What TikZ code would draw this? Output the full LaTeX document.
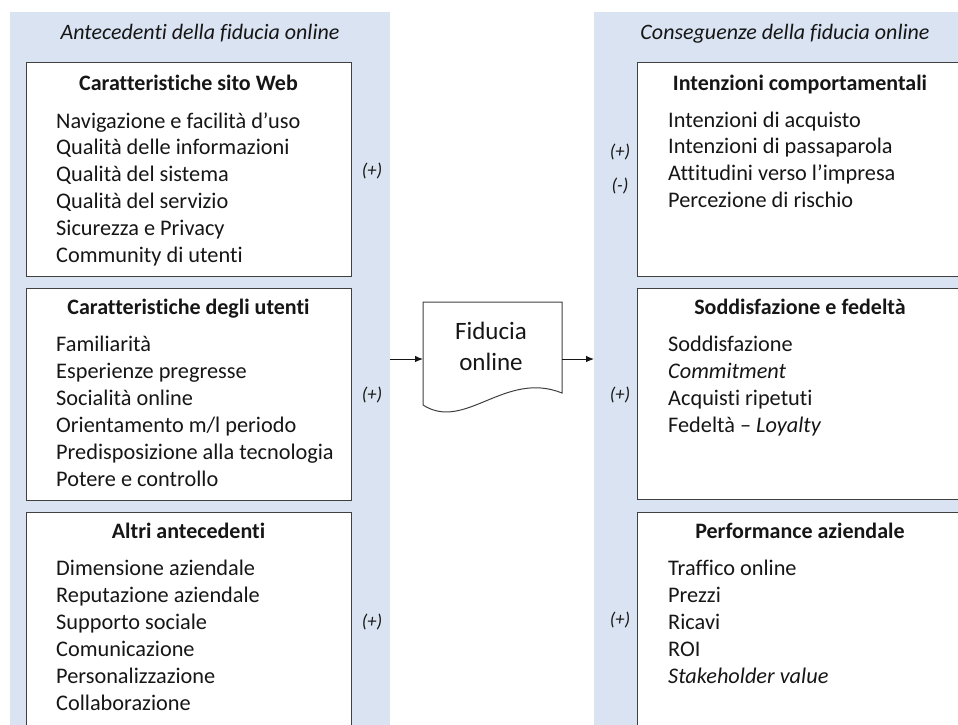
\documentclass[tikz,border=0pt]{standalone}
\usepackage{fontspec}
\setmainfont{Carlito}[Ligatures=NoCommon]
\usetikzlibrary{arrows.meta}
\definecolor{panelblue}{RGB}{218,227,242}
\definecolor{edgegray}{RGB}{64,64,64}
\definecolor{ink}{RGB}{22,22,22}

\begin{document}
\begin{tikzpicture}[x=1pt,y=-1pt,
  panel/.style={fill=panelblue,draw=none,inner sep=0pt,outer sep=0pt,anchor=north west},
  card/.style={draw=edgegray,line width=1.1pt,fill=white,anchor=north west,inner sep=0pt},
  head/.style={font=\fontsize{22}{27}\selectfont\bfseries,text=ink,anchor=base,inner sep=0pt},
  item/.style={font=\fontsize{22.3}{27}\selectfont,text=ink,anchor=base west,inner sep=0pt},
  sign/.style={font=\fontsize{18.5}{20}\selectfont\itshape,text=ink,inner sep=0pt},
  paneltitle/.style={font=\fontsize{22}{27}\selectfont\itshape,text=ink,anchor=base,inner sep=0pt},
  doctext/.style={font=\fontsize{25}{31}\selectfont,text=ink,anchor=base,inner sep=0pt},
  flow/.style={-{Latex[length=8pt,width=6.5pt]},line width=0.9pt,draw=ink}]

\useasboundingbox (0,0) rectangle (958,724);
\clip (0,0) rectangle (958,724);

% background columns
\node[panel,minimum width=380pt,minimum height=730pt] (antpanel) at (10,12) {};
\node[panel,minimum width=420pt,minimum height=730pt] (conpanel) at (594,12) {};

\node[paneltitle] (anttitle) at (200,39) {Antecedenti della fiducia online};
\node[paneltitle] (contitle) at (785,39) {Conseguenze della fiducia online};

% antecedents
\node[card,minimum width=325pt,minimum height=214pt] (web) at (26,62) {};
\node[card,minimum width=325pt,minimum height=212pt] (users) at (26,288) {};
\node[card,minimum width=325pt,minimum height=240pt] (other) at (26,512) {};

\node[head] (webhead) at (188.5,90) {Caratteristiche sito Web};
\node[head] (usershead) at (188.5,314) {Caratteristiche degli utenti};
\node[head] (otherhead) at (188.5,538) {Altri antecedenti};

\foreach \txt [count=\k from 0] in {Navigazione e facilità d’uso,Qualità delle informazioni,Qualità del sistema,Qualità del servizio,Sicurezza e Privacy,Community di utenti}
  \node[item] (web\k) at (56,{128+26.9*\k}) {\txt};
\foreach \txt [count=\k from 0] in {Familiarità,Esperienze pregresse,Socialità online,Orientamento m/l periodo,Predisposizione alla tecnologia,Potere e controllo}
  \node[item] (users\k) at (56,{351+27.1*\k}) {\txt};
\foreach \txt [count=\k from 0] in {Dimensione aziendale,Reputazione aziendale,Supporto sociale,Comunicazione,Personalizzazione,Collaborazione}
  \node[item] (other\k) at (56,{575+27*\k}) {\txt};

\node[sign] (websign) at (372,171) {(+)};
\node[sign] (userssign) at (372,395) {(+)};
\node[sign] (othersign) at (372,622) {(+)};

% consequences
\node[card,minimum width=326pt,minimum height=214pt] (intent) at (637,62) {};
\node[card,minimum width=326pt,minimum height=211pt] (loyal) at (637,288) {};
\node[card,minimum width=326pt,minimum height=240pt] (perf) at (637,512) {};

\node[head] (intenthead) at (800,90) {Intenzioni comportamentali};
\node[head] (loyalhead) at (800,314) {Soddisfazione e fedeltà};
\node[head] (perfhead) at (800,538) {Performance aziendale};

\foreach \txt [count=\k from 0] in {Intenzioni di acquisto,Intenzioni di passaparola,Attitudini verso l’impresa,Percezione di rischio}
  \node[item] (intent\k) at (668,{127+26.8*\k}) {\txt};
\foreach \txt [count=\k from 0] in {Soddisfazione,\textit{Commitment},Acquisti ripetuti,Fedeltà – \textit{Loyalty}}
  \node[item] (loyal\k) at (668,{351+27*\k}) {\txt};
\foreach \txt [count=\k from 0] in {Traffico online,Prezzi,Ricavi,ROI,\textit{Stakeholder value}}
  \node[item] (perf\k) at (668,{575+27*\k}) {\txt};

\node[sign] (intentplus) at (620,152) {(+)};
\node[sign] (intentminus) at (620,186) {(-)};
\node[sign] (loyalsign) at (620,395) {(+)};
\node[sign] (perfsign) at (620,620) {(+)};

% central document shape
\node[minimum width=139pt,minimum height=114pt,inner sep=0pt,outer sep=0pt,anchor=north west] (trust) at (423,302) {};
\draw[edgegray,line width=1pt,fill=white]
  (423,302) -- (562,302) -- (562,393)
  .. controls (505,370) and (465,432) .. (423,405) -- cycle;
\node[doctext] (trusttop) at (491,339) {Fiducia};
\node[doctext] (trustbottom) at (491,370) {online};

\coordinate (inL) at (390,359);
\coordinate (outR) at (594,359);
\draw[flow] (inL) -- (trust.west);
\draw[flow] (trust.east) -- (outR);
\end{tikzpicture}
\end{document}
